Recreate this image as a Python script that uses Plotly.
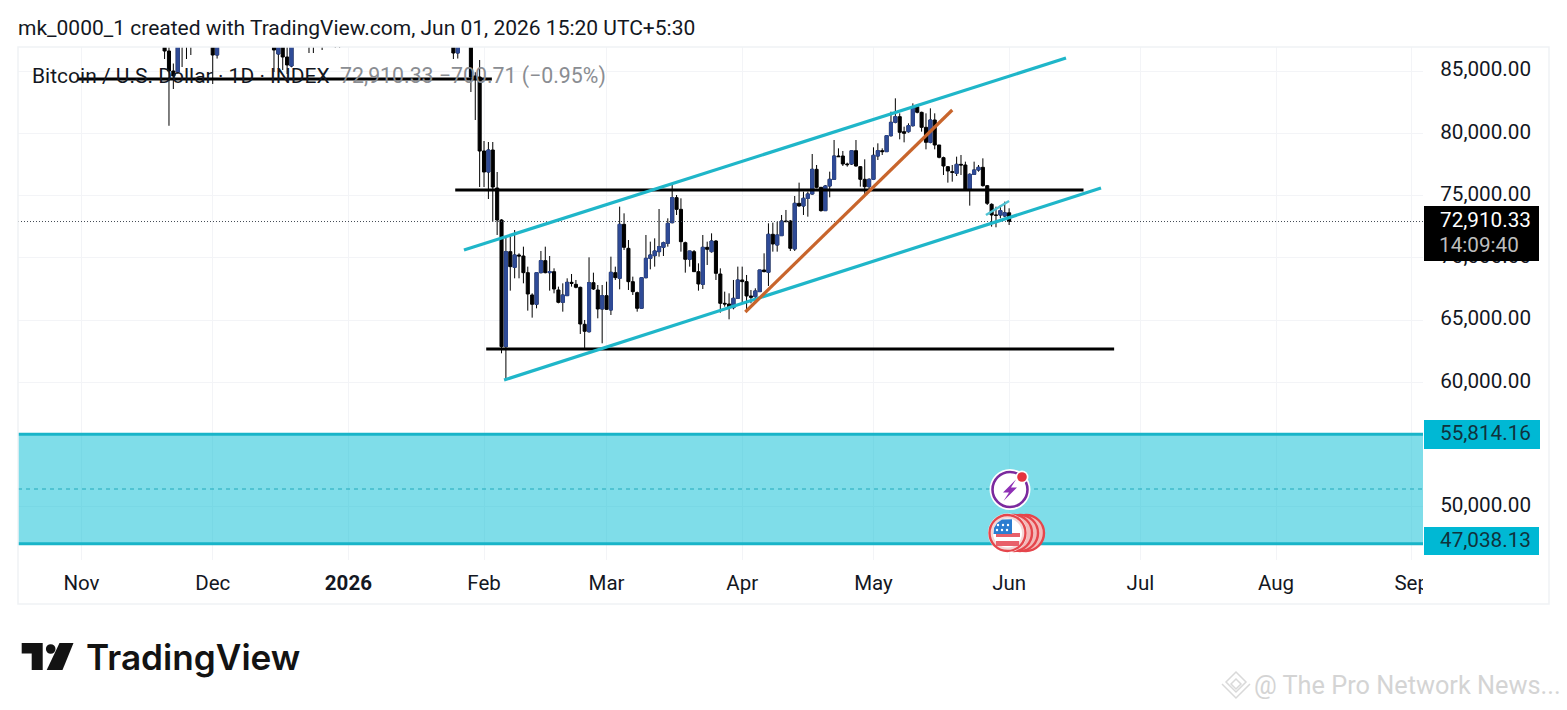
import plotly.graph_objects as go

dates = ["2025-11-20","2025-11-21","2025-11-22","2025-11-23","2025-11-24","2025-11-25","2025-11-26",
"2025-12-01","2025-12-02","2025-12-15","2025-12-16","2025-12-17","2025-12-18","2025-12-19",
"2025-12-23","2025-12-24","2025-12-26","2025-12-29","2025-12-30",
"2026-01-25","2026-01-26","2026-01-29","2026-01-30","2026-01-31",
"2026-02-01","2026-02-02","2026-02-03","2026-02-04","2026-02-05","2026-02-06","2026-02-07","2026-02-08","2026-02-09","2026-02-10",
"2026-02-11","2026-02-12","2026-02-13","2026-02-14","2026-02-15","2026-02-16","2026-02-17","2026-02-18","2026-02-19","2026-02-20",
"2026-02-21","2026-02-22","2026-02-23","2026-02-24","2026-02-25","2026-02-26","2026-02-27","2026-02-28",
"2026-03-01","2026-03-02","2026-03-03","2026-03-04","2026-03-05","2026-03-06","2026-03-07","2026-03-08","2026-03-09","2026-03-10",
"2026-03-11","2026-03-12","2026-03-13","2026-03-14","2026-03-15","2026-03-16","2026-03-17","2026-03-18","2026-03-19","2026-03-20",
"2026-03-21","2026-03-22","2026-03-23","2026-03-24","2026-03-25","2026-03-26","2026-03-27","2026-03-28","2026-03-29","2026-03-30","2026-03-31",
"2026-04-01","2026-04-02","2026-04-03","2026-04-04","2026-04-05","2026-04-06","2026-04-07","2026-04-08","2026-04-09","2026-04-10",
"2026-04-11","2026-04-12","2026-04-13","2026-04-14","2026-04-15","2026-04-16","2026-04-17","2026-04-18","2026-04-19","2026-04-20",
"2026-04-21","2026-04-22","2026-04-23","2026-04-24","2026-04-25","2026-04-26","2026-04-27","2026-04-28","2026-04-29","2026-04-30",
"2026-05-01","2026-05-02","2026-05-03","2026-05-04","2026-05-05","2026-05-06","2026-05-07","2026-05-08","2026-05-09","2026-05-10",
"2026-05-11","2026-05-12","2026-05-13","2026-05-14","2026-05-15","2026-05-16","2026-05-17","2026-05-18","2026-05-19","2026-05-20",
"2026-05-21","2026-05-22","2026-05-23","2026-05-24","2026-05-25","2026-05-26","2026-05-27","2026-05-28","2026-05-29","2026-05-30","2026-05-31","2026-06-01"]

opens = [87000,86606,85000,84920,87500,88500,87400,
90000,86285,89000,86365,87500,86124,85401,
88000,87500,88000,87900,87200,
87000,86446,87900,84600,84518,
78574,76888,78655,75602,73032,62860,70490,69231,70222,70141,
68803,67009,66260,68803,69767,68803,68883,67411,66420,66956,
68026,67866,67625,64654,64064,67999,67411,65885,
66956,65805,68803,68348,72684,70757,68080,67197,65938,68401,
69954,70168,70490,70837,71159,72818,74826,73889,71212,69874,
70490,68883,67866,70837,70490,71346,68696,66340,66286,65992,66741,
68215,68081,66930,66877,67278,69018,68831,71882,71026,71775,
72953,72953,70704,74372,74158,74774,75122,77103,75657,73783,
75764,76300,78173,78173,77531,77531,78602,77317,76300,75710,
76300,78173,78602,78522,79807,80877,81332,80128,80128,80610,
82135,81680,80476,79271,81065,79057,78040,77317,76915,76782,
77504,77451,75443,76701,77049,77263,75791,74292,73435,73435,73355,73611]

highs = [89000,87500,85600,88000,89500,89000,90500,
91000,92000,90000,88500,90000,89000,89000,
88900,88000,89000,90000,89000,
87500,88500,88500,84900,85883,
79378,79297,79297,76888,73100,71694,71694,72229,70356,70891,
69285,67143,68803,70543,70891,70141,69151,67679,67946,68348,
68696,68214,67679,65001,70034,68803,67812,67812,
68080,70088,69285,74103,73568,71426,68482,67277,68428,71828,
71292,71560,73916,71292,73166,75977,75040,74773,71292,70543,
70623,69552,71828,71292,71962,71426,69151,67277,67143,68215,69286,
69286,68617,67412,67546,69018,70356,72766,72820,72900,73435,
73837,73034,74961,76032,75309,75309,78334,77451,75657,75845,
76915,79458,78789,78575,77638,78655,79458,77370,77906,76380,
78870,79191,78789,79860,81734,82805,81600,80529,80797,82403,
82269,81734,81600,82002,81600,79057,78120,77370,77451,78120,
78254,77718,76782,77718,77451,77986,75845,74372,74104,74238,74506,73971]

lows = [85964,80600,83554,84800,85321,85964,86285,
83956,86000,84920,85161,85080,84759,85300,
86446,86446,86687,86847,86847,
85964,86000,83313,81064,75683,
75683,74719,72900,71828,62325,60183,67357,68348,68348,67946,
65751,65189,65938,68749,68749,67357,67143,66340,65670,66929,
67679,67545,63877,62726,63984,67411,65135,63128,
65805,65403,68214,67464,70623,67411,67009,65670,65938,68348,
69070,69285,70088,70141,70891,72765,73434,70490,68803,69285,
68883,67357,67491,69419,70409,68214,65590,66072,65055,65858,66741,
66341,65672,66341,66743,67278,68831,67734,70490,70490,71775,
72900,70544,70544,74104,73435,73301,75068,75577,73703,73783,
74854,76246,78120,77370,77317,77451,77317,75710,74961,75309,
76246,77852,78254,78522,79726,80797,79512,79271,80047,80529,
81600,80128,78709,79191,78709,77986,76648,76032,76112,76567,
76648,75389,74185,76648,76915,75710,74238,72498,72445,73167,73248,72632]

closes = [86606,85000,84600,87000,88500,87400,90000,
86285,91000,86687,88000,86124,85482,88000,
87500,87300,87400,87200,88400,
86446,88000,84518,84400,78574,
76888,78655,75683,73032,62860,70490,69285,70222,70141,68803,
67090,66260,68803,69767,68803,68883,67491,66420,67009,68026,
67946,67625,64680,64091,67999,67491,65885,66956,
65858,68830,68401,72684,70837,68080,67277,65938,68401,69954,
70222,70543,70891,71212,72765,74826,73889,71292,69874,70543,
68883,67893,70837,70677,71346,68749,66340,66286,65992,66741,68214,
68081,66930,66823,67331,69018,68884,71882,71106,71829,72953,
72900,70758,74372,74158,74774,75122,77103,75657,73783,75764,
76300,78173,78120,77531,77478,78602,77370,76300,75710,76300,
78227,78602,78522,79807,80877,81332,80074,79994,80610,82135,
81680,80476,79271,81065,79057,78066,77370,76969,76862,77504,
77451,75443,76701,77049,77263,75791,74372,73435,73408,73783,73611,72910.33]

price_ticks = [85000, 80000, 75000, 70000, 65000, 60000, 50000]
price_labels = ["85,000.00", "80,000.00", "75,000.00", "70,000.00", "65,000.00", "60,000.00", "50,000.00"]
month_ticks = ["2025-11-01","2025-12-01","2026-01-01","2026-02-01","2026-03-01","2026-04-01","2026-05-01","2026-06-01","2026-07-01","2026-08-01","2026-09-01"]
month_labels = ["Nov","Dec","<b>2026</b>","Feb","Mar","Apr","May","Jun","Jul","Aug","Sep"]

channel_upper_x = ["2026-01-27 10:00", "2026-06-14 00:00"]
channel_upper_y = [70622, 86044]
channel_lower_x = ["2026-02-05 14:00", "2026-06-22 00:00"]
channel_lower_y = [60181, 75603]
channel_small_x = ["2026-05-26 17:00", "2026-06-01 00:00"]
channel_small_y = [73434, 74558]
trend_orange_x = ["2026-04-01 17:00", "2026-05-19 00:00"]
trend_orange_y = [65643, 81867]
level_mid_x = ["2026-01-25 10:00", "2026-06-18 00:00"]
level_mid_y = [75442, 75442]
level_low_x = ["2026-02-01 12:00", "2026-06-25 00:00"]
level_low_y = [62671, 62671]
level_top_x = ["2025-10-31 05:00", "2026-02-02 19:00"]
level_top_y = [84357, 84357]
last_price = 72910.33
zone_top = 55814.16
zone_bottom = 47038.13
zone_mid = 51426.15

L, R, T, B = 18, 1423, 47, 560
W, H = 1567, 710
def px(x): return (x - L) / (R - L)
def py(y): return (B - y) / (B - T)

def rect(x0, y0, x1, y1, fill, line=None, lw=0):
    return dict(type="rect", xref="paper", yref="paper", x0=px(x0), x1=px(x1), y0=py(y0), y1=py(y1),
                fillcolor=fill, line=dict(color=line or fill, width=lw), layer="above")
def circ(cx, cy, r, fill, line=None, lw=0):
    return dict(type="circle", xref="paper", yref="paper", x0=px(cx - r), x1=px(cx + r), y0=py(cy - r), y1=py(cy + r),
                fillcolor=fill, line=dict(color=line or fill, width=lw), layer="above")
def poly(points, fill=None, line=None, lw=0, closed=True):
    d = "M" + " L".join(f"{px(a):.5f},{py(b):.5f}" for a, b in points) + (" Z" if closed else "")
    return dict(type="path", xref="paper", yref="paper", path=d, fillcolor=fill or "rgba(0,0,0,0)",
                line=dict(color=line or "rgba(0,0,0,0)", width=lw), layer="above")
def text(x, y, s, size, color="#131722", anchor="left", family="Roboto", weight=None):
    f = dict(family=family, size=size, color=color)
    if weight: f["weight"] = weight
    return dict(xref="paper", yref="paper", x=px(x), y=py(y), text=s, showarrow=False, xanchor=anchor,
                yanchor="middle", font=f)
def zone_line(v, color, width, dash="solid"):
    return dict(type="line", xref="paper", yref="y", x0=0, x1=1, y0=v, y1=v,
                line=dict(color=color, width=width, dash=dash), layer="above")

fig = go.Figure()
fig.add_trace(go.Candlestick(x=dates, open=opens, high=highs, low=lows, close=closes,
    increasing=dict(line=dict(color="#000000", width=1), fillcolor="#000000"),
    decreasing=dict(line=dict(color="#000000", width=1), fillcolor="#000000"),
    whiskerwidth=0, hoverinfo="skip", showlegend=False))
up = [i for i in range(len(dates)) if closes[i] > opens[i]]
fig.add_trace(go.Candlestick(x=[dates[i] for i in up], open=[opens[i] for i in up],
    high=[closes[i] for i in up], low=[opens[i] for i in up], close=[closes[i] for i in up],
    increasing=dict(line=dict(color="#2f4b97", width=1), fillcolor="#2f4b97"),
    decreasing=dict(line=dict(color="#2f4b97", width=1), fillcolor="#2f4b97"),
    whiskerwidth=0, hoverinfo="skip", showlegend=False))

def seg(x, y, color, width=3, dash=None):
    fig.add_trace(go.Scatter(x=x, y=y, mode="lines", line=dict(color=color, width=width, dash=dash),
                             hoverinfo="skip", showlegend=False))

CY = "#1fb6c9"
seg(["2025-10-17 12:00", "2026-09-03 14:00"], [last_price, last_price], "#444b55", 1, "1px,2px")
seg(level_top_x, level_top_y, "#000000", 3.2)
seg(level_mid_x, level_mid_y, "#000000", 3.2)
seg(level_low_x, level_low_y, "#000000", 3.2)
seg(channel_upper_x, channel_upper_y, CY, 3.2)
seg(channel_lower_x, channel_lower_y, CY, 3.2)
seg(channel_small_x, channel_small_y, "#4fc3d3", 2.5)
seg(trend_orange_x, trend_orange_y, "#c8652c", 3.2)

shapes = [
    dict(type="rect", xref="paper", yref="y", x0=0, x1=1, y0=zone_bottom, y1=zone_top,
         fillcolor="rgba(0,188,212,0.5)", line=dict(width=0), layer="above"),
    zone_line(zone_top, "#19b4c8", 3),
    zone_line(zone_bottom, "#19b4c8", 3),
    zone_line(zone_mid, "#22a9bb", 1, "4px,4px"),
    # outer frame
    dict(type="rect", xref="paper", yref="paper", x0=px(18), x1=px(1549), y0=py(604), y1=py(47),
         line=dict(color="#f0f2f5", width=1.5), fillcolor="rgba(0,0,0,0)", layer="above"),
    # clip of the last month label
    rect(1423, 568, 1440, 596, "#ffffff"),
    # price tags
    rect(1424, 420, 1540, 449, "#00b8d4"),
    rect(1424, 527, 1539, 555, "#00b8d4"),
    rect(1424, 206, 1539, 261, "#000000"),
]
# event icon: lightning
shapes += [circ(1010, 489.5, 20.5, "#ffffff"),
           circ(1010, 489.5, 17.5, "#ffffff", "#7b2a9e", 2.6),
           poly([(1016, 479.5), (1003, 492.5), (1009, 492.5), (1003.5, 501), (1017, 487.5), (1011, 487.5)], fill="#8e2fb5"),
           circ(1022, 477, 6.5, "#ffffff"), circ(1022, 477, 4.8, "#e5333f")]
# event icon: flags stack
for cx in (1026, 1020, 1014):
    shapes.append(circ(cx, 533, 18, "#f3b9b9", "#e5464c", 2.4))
shapes += [circ(1007.5, 533, 19.5, "#ffffff"), circ(1007.5, 533, 18, "#f4d6d6", "#e5464c", 2.4),
           circ(1007.5, 533, 14.5, "#ffffff"),
           rect(996, 533, 1020, 537, "#e8606a"),
           rect(996, 541, 1019, 546, "#e8606a"),
           poly([(993.5, 534), (994, 528), (997, 523), (1002, 519.5), (1012, 519.3), (1012, 534)], fill="#2b7dd0")]
for sx, sy in ((998, 525), (1003, 525), (1008, 525), (997, 530), (1002, 530), (1007, 530)):
    shapes.append(circ(sx, sy, 1.2, "#ffffff"))
# TradingView logo
shapes += [poly([(21.7, 643), (42.7, 643), (42.7, 670), (31.7, 670), (31.7, 653.5), (21.7, 653.5)], fill="#131313"),
           circ(50.7, 649, 4.8, "#131313"),
           poly([(59.5, 643), (73.5, 643), (62.5, 670), (46.7, 670)], fill="#131313")]
# watermark emblem
G = "#d9d9d9"
shapes += [poly([(1236, 672), (1246, 682), (1236, 692), (1226, 682)], line=G, lw=1.5),
           poly([(1236, 679), (1241, 684), (1236, 689), (1231, 684)], line=G, lw=1.5),
           poly([(1222, 684), (1236, 698), (1250, 684)], line=G, lw=1.5, closed=False)]

ann = [
    text(16, 28, "mk_0000_1 created with TradingView.com, Jun 01, 2026 15:20 UTC+5:30", 21),
    text(30, 76, "Bitcoin / U.S. Dollar · 1D · INDEX", 21),
    text(338, 76, "72,910.33 −700.71 (−0.95%)", 21.3, "#8a8d92"),
    text(1533, 220, "72,910.33", 20.7, "#ffffff", "right"),
    text(1437, 245, "14:09:40", 20.7, "#bdbdbd"),
    text(1533, 433, "55,814.16", 20.7, "#10323c", "right"),
    text(1533, 540, "47,038.13", 20.7, "#10323c", "right"),
    text(84, 657, "TradingView", 35.2, "#131313", family="Inter", weight=600),
    text(1252, 685, "@ The Pro Network News...", 25.3, "#d4d4d4"),
]

fig.update_layout(
    width=W, height=H, margin=dict(l=L, r=W - R, t=T, b=H - B, autoexpand=False),
    paper_bgcolor="#ffffff", plot_bgcolor="#ffffff", showlegend=False, boxgap=0.12, boxgroupgap=0.2,
    font=dict(family="Roboto", color="#131722"), shapes=shapes, annotations=ann,
    xaxis=dict(type="date", range=["2025-10-17 12:00", "2026-09-03 14:00"], rangeslider=dict(visible=False),
               tickmode="array", tickvals=month_ticks, ticktext=month_labels, tickangle=0,
               showgrid=True, gridcolor="#f3f4f7", gridwidth=1, zeroline=False, showline=False,
               ticks="outside", ticklen=4, tickcolor="rgba(0,0,0,0)", tickfont=dict(size=20.5, color="#131722")),
    yaxis=dict(side="right", range=[45723, 86928], tickmode="array", tickvals=price_ticks, ticktext=price_labels,
               showgrid=True, gridcolor="#f3f4f7", gridwidth=1, zeroline=False, showline=False,
               ticks="outside", ticklen=12, tickcolor="rgba(0,0,0,0)", ticklabelshift=-2,
               tickfont=dict(size=20.7, color="#131722")),
)
fig.write_html("out.html", config=dict(displayModeBar=False, responsive=False),
               post_script="document.body.style.margin='0';document.body.style.overflow='hidden';")
